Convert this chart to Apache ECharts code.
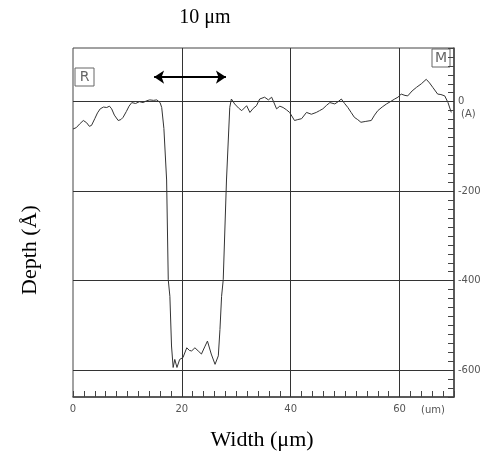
<!DOCTYPE html>
<html>
<head>
<meta charset="utf-8">
<script src="https://cdn.jsdelivr.net/npm/echarts@6/dist/echarts.min.js"></script>
<style>
  body { margin: 0; background: #fff; }
  #chart { width: 495px; height: 465px; }
</style>
</head>
<body>
<div id="chart"></div>
<script>
// profile: width (um) vs depth (A)
var widthUm = [0, 0.6, 1.2, 1.9, 2.5, 3.0, 3.4, 4.0, 4.5, 5.0, 5.6, 6.2, 6.7, 7.1, 7.6, 8.3, 8.8, 9.2, 9.8, 10.3, 10.8, 11.5, 12.2, 12.9, 13.5, 14.1, 14.8, 15.4, 16.0,
  16.3, 16.7, 17.2, 17.5, 17.8, 18.1, 18.4, 18.7, 19.1, 19.6, 20.2, 20.9, 21.4, 21.8, 22.4, 23.0, 23.6, 24.2, 24.7, 25.4, 26.1, 26.7, 27.0, 27.3, 27.6, 28.2, 28.8,
  29.1, 29.7, 30.4, 31.0, 31.9, 32.5, 33.1, 33.7, 34.3, 35.2, 35.9, 36.5, 37.4, 38.0, 38.6, 39.2, 39.8, 40.7, 41.3, 42.0, 42.9, 43.8, 44.7, 45.3, 45.9, 46.6, 47.2, 48.1,
  48.7, 49.3, 49.9, 50.5, 51.1, 51.7, 52.3, 52.9, 53.8, 54.8, 55.4, 56.0, 56.8, 57.6, 58.3, 59.1, 59.7, 60.3, 61.0, 61.5, 62.3, 63.1, 64.0, 64.9, 65.5, 66.1, 67.0, 67.6,
  68.3, 68.9, 69.5];
var depthA = [-61, -58, -50, -42, -47, -55, -53, -38, -25, -16, -12, -13, -10, -16, -30, -42, -40, -35, -22, -10, -2, -4, 0, -2, 2, 4, 3, 4, -2,
  -13, -60, -175, -398, -435, -546, -594, -576, -594, -576, -572, -550, -556, -557, -550, -557, -564, -548, -535, -564, -587, -568, -509, -435, -398, -175, -13,
  6, -5, -14, -20, -9, -24, -15, -9, 6, 10, 4, 10, -16, -10, -13, -18, -24, -42, -40, -38, -24, -28, -24, -20, -16, -8, -2, -5,
  0, 6, -4, -13, -24, -35, -40, -46, -44, -42, -30, -20, -12, -5, 0, 6, 10, 17, 14, 13, 24, 32, 40, 50, 42, 32, 17, 16,
  13, -2, -24];
var gridX = [20, 40, 60];
var gridY = [0, -200, -400, -600];
var xTickLabels = { 0: '0', 20: '20', 40: '40', 60: '60' };
var yTickLabels = { 0: '0', '-200': '-200', '-400': '-400', '-600': '-600' };

var chart = echarts.init(document.getElementById('chart'));

var points = widthUm.map(function (x, i) { return [x, depthA[i]]; });
var gridLines = gridX.map(function (v) { return { xAxis: v }; })
  .concat(gridY.map(function (v) { return { yAxis: v }; }));

var tickFont = { color: '#555', fontSize: 10, fontFamily: 'DejaVu Sans' };

var option = {
  animation: false,
  grid: { left: 73, right: 41, top: 48, bottom: 68, show: true, borderColor: '#444', borderWidth: 1 },
  xAxis: {
    type: 'value', min: 0, max: 70, interval: 2,
    axisLine: { onZero: false, lineStyle: { color: '#444', width: 1.5 } },
    axisTick: { inside: true, length: 6, lineStyle: { color: '#444' } },
    axisLabel: Object.assign({
      margin: 7,
      formatter: function (v) { return xTickLabels[v] || ''; }
    }, tickFont),
    splitLine: { show: false }
  },
  yAxis: {
    type: 'value', position: 'right', min: -660, max: 120, interval: 20,
    axisLine: { show: true, onZero: false, lineStyle: { color: '#444', width: 1.5 } },
    axisTick: { inside: true, length: 6, lineStyle: { color: '#444' } },
    axisLabel: Object.assign({
      margin: 4,
      formatter: function (v) { return yTickLabels[v] || ''; }
    }, tickFont),
    splitLine: { show: false }
  },
  series: [{
    type: 'line',
    data: points,
    showSymbol: false,
    lineStyle: { color: '#333', width: 1 },
    markLine: {
      silent: true,
      symbol: 'none',
      label: { show: false },
      lineStyle: { color: '#333', width: 1, type: 'solid' },
      data: gridLines
    }
  }, {
    type: 'line',
    data: [],
    markLine: {
      silent: true,
      symbol: ['arrow', 'arrow'],
      symbolSize: 10,
      label: { show: false },
      lineStyle: { color: '#000', width: 2, type: 'solid' },
      data: [[{ coord: [14.9, 55] }, { coord: [28.1, 55] }]]
    }
  }],
  graphic: [
    { type: 'text', style: { text: '10 μm', x: 205, y: 18, align: 'center', verticalAlign: 'middle', fill: '#000', font: '20px "Liberation Serif"' } },
    { type: 'text', style: { text: 'Width (μm)', x: 262, y: 440, align: 'center', verticalAlign: 'middle', fill: '#000', font: '22px "Liberation Serif"' } },
    { type: 'text', x: 30, y: 250, rotation: Math.PI / 2, style: { text: 'Depth (Å)', x: 0, y: 0, align: 'center', verticalAlign: 'middle', fill: '#000', font: '22px "Liberation Serif"' } },
    { type: 'text', style: { text: '(A)', x: 461, y: 114, verticalAlign: 'middle', fill: '#555', font: '10px "DejaVu Sans"' } },
    { type: 'text', style: { text: '(um)', x: 421, y: 410, verticalAlign: 'middle', fill: '#555', font: '10px "DejaVu Sans"' } },
    { type: 'rect', shape: { x: 75, y: 68, width: 19, height: 18 }, style: { fill: 'none', stroke: '#666', lineWidth: 1 } },
    { type: 'text', style: { text: 'R', x: 84.5, y: 77, align: 'center', verticalAlign: 'middle', fill: '#666', font: '14px "DejaVu Sans"' } },
    { type: 'rect', shape: { x: 432, y: 49, width: 18, height: 18 }, style: { fill: 'none', stroke: '#666', lineWidth: 1 } },
    { type: 'text', style: { text: 'M', x: 441, y: 58, align: 'center', verticalAlign: 'middle', fill: '#666', font: '14px "DejaVu Sans"' } }
  ]
};

chart.setOption(option);
</script>
</body>
</html>
